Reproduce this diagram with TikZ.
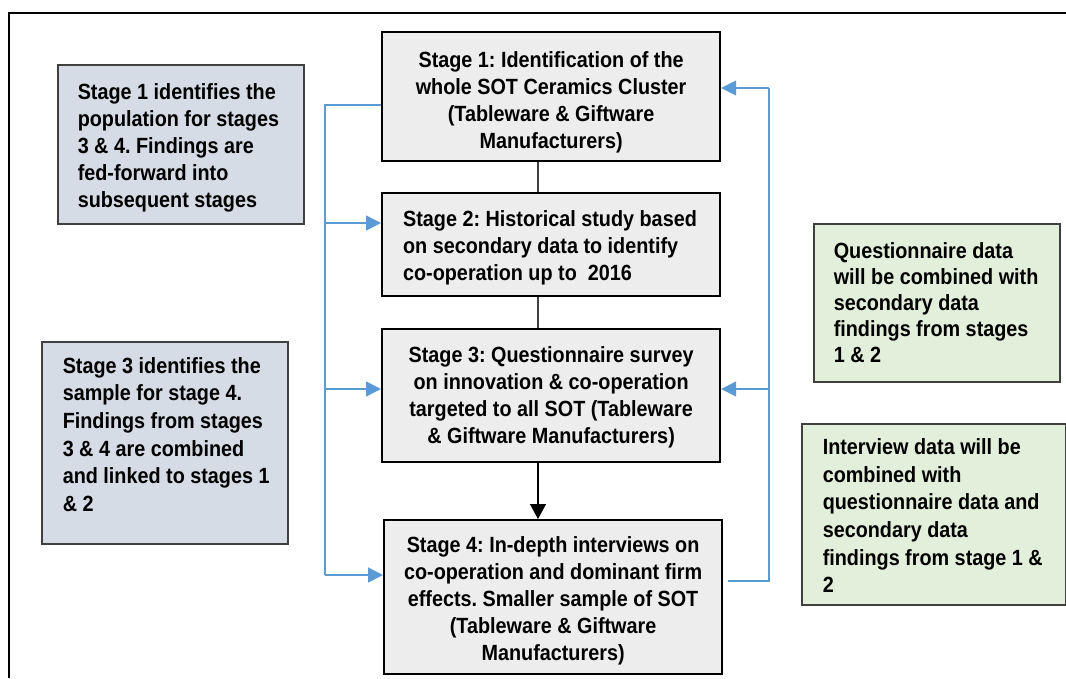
\documentclass[tikz,border=0pt]{standalone}
\usepackage{fontspec}
\setmainfont{Liberation Sans}[FakeStretch=0.9]
\usetikzlibrary{arrows.meta,calc}
\definecolor{stagefill}{RGB}{237,237,237}
\definecolor{notefill}{RGB}{214,220,229}
\definecolor{greenfill}{RGB}{226,239,218}
\definecolor{linkblue}{RGB}{91,155,213}
\definecolor{edgegray}{RGB}{64,64,64}
% a left-aligned block of fixed lines, set in a box of the given width,
% moved down by the given amount without changing its size
\newcommand{\leftlines}[3]{\raisebox{-#2}[\height][\depth]{%
  \makebox[#1][l]{\begin{tabular}{@{}l@{}}#3\end{tabular}}}}
% a centred block of fixed lines, moved down by the given amount
\newcommand{\midlines}[2]{\raisebox{-#1}[\height][\depth]{%
  \begin{tabular}{@{}c@{}}#2\end{tabular}}}
\begin{document}
\begin{tikzpicture}[x=1pt,y=-1pt,
  txt/.style={font=\fontsize{22}{27}\selectfont\bfseries\frenchspacing, text=black},
  stagebox/.style={txt, draw=black, line width=2.2pt, fill=stagefill,
    inner sep=0pt, anchor=north west, minimum width=338pt},
  notebox/.style={txt, draw=edgegray, line width=1.5pt, fill=notefill,
    inner sep=0pt, anchor=north west, minimum width=246pt},
  greenbox/.style={txt, draw=edgegray, line width=1.5pt, fill=greenfill,
    inner sep=0pt, anchor=north west},
  bluelink/.style={draw=linkblue, line width=1.5pt},
  bluearrow/.style={bluelink, -{Triangle[length=15pt,width=15pt]}},
  graylink/.style={draw=edgegray, line width=1.5pt},
  grayarrow/.style={draw=black, line width=1.5pt, -{Triangle[length=15pt,width=16pt]}}]
\useasboundingbox (0,0) rectangle (1066,678);

% outer frame (top and left edges)
\draw[line width=1.6pt] (9,678) -- (9,13) -- (1066,13);

% stage boxes
\node[stagebox, minimum height=129pt] (s1) at (381,31)
  {\midlines{6pt}{Stage 1: Identification of the\\whole SOT Ceramics Cluster\\(Tableware \& Giftware\\Manufacturers)}};
\node[stagebox, minimum height=103pt] (s2) at (381,192)
  {\leftlines{296pt}{3pt}{Stage 2: Historical study based\\on secondary data to identify\\co-operation up to~ 2016}};
\node[stagebox, minimum height=133pt] (s3) at (381,328)
  {\midlines{2pt}{Stage 3: Questionnaire survey\\on innovation \& co-operation\\targeted to all SOT (Tableware\\\& Giftware Manufacturers)}};
\node[stagebox, minimum height=154pt] (s4) at (383,519)
  {\midlines{4pt}{Stage 4: In-depth interviews on\\co-operation and dominant firm\\effects. Smaller sample of SOT\\(Tableware \& Giftware\\Manufacturers)}};

% side notes
\node[notebox, minimum height=159pt] (na) at (57,64)
  {\leftlines{206pt}{4pt}{Stage 1 identifies the\\population for stages\\3 \& 4. Findings are\\fed-forward into\\subsequent stages}};
\node[notebox, minimum height=202pt, font=\fontsize{22}{27.6}\selectfont\bfseries\frenchspacing] (nb) at (41,341)
  {\leftlines{204pt}{-6pt}{Stage 3 identifies the\\sample for stage 4.\\Findings from stages\\3 \& 4 are combined\\and linked to stages 1\\\& 2}};
\node[greenbox, minimum width=246pt, minimum height=158pt, font=\fontsize{22}{26}\selectfont\bfseries\frenchspacing] (nc) at (813,223)
  {\leftlines{206pt}{3pt}{Questionnaire data\\will be combined with\\secondary data\\findings from stages\\1 \& 2}};
\node[greenbox, minimum width=264pt, minimum height=181pt, font=\fontsize{22}{27.6}\selectfont\bfseries\frenchspacing] (nd) at (801,423)
  {\leftlines{222pt}{4pt}{Interview data will be\\combined with\\questionnaire data and\\secondary data\\findings from stage 1 \&\\2}};

% vertical flow between stages
\coordinate (cx) at (538,0);
\draw[graylink] (s1.south -| cx) -- (s2.north -| cx);
\draw[graylink] (s2.south -| cx) -- (s3.north -| cx);
\draw[grayarrow] (s3.south -| cx) -- (s4.north -| cx);

% feed-forward bracket on the left
\coordinate (lt) at (325,105);
\coordinate (l2) at (325,223);
\coordinate (l3) at (325,389);
\coordinate (lb) at (325,575);
\draw[bluelink] (s1.west |- lt) -- (lt) -- (lb);
\draw[bluearrow] (l2) -- (l2 -| s2.west);
\draw[bluearrow] (l3) -- (l3 -| s3.west);
\draw[bluearrow] (lb) -- (lb -| s4.west);

% feedback bracket on the right
\coordinate (rt) at (769,88);
\coordinate (r3) at (769,389);
\coordinate (rb) at (769,581);
\draw[bluelink] ($(rb -| s4.east)+(5,0)$) -- (rb) -- (rt);
\draw[bluearrow] (rt) -- (rt -| s1.east);
\draw[bluearrow] (r3) -- (r3 -| s3.east);
\end{tikzpicture}
\end{document}
